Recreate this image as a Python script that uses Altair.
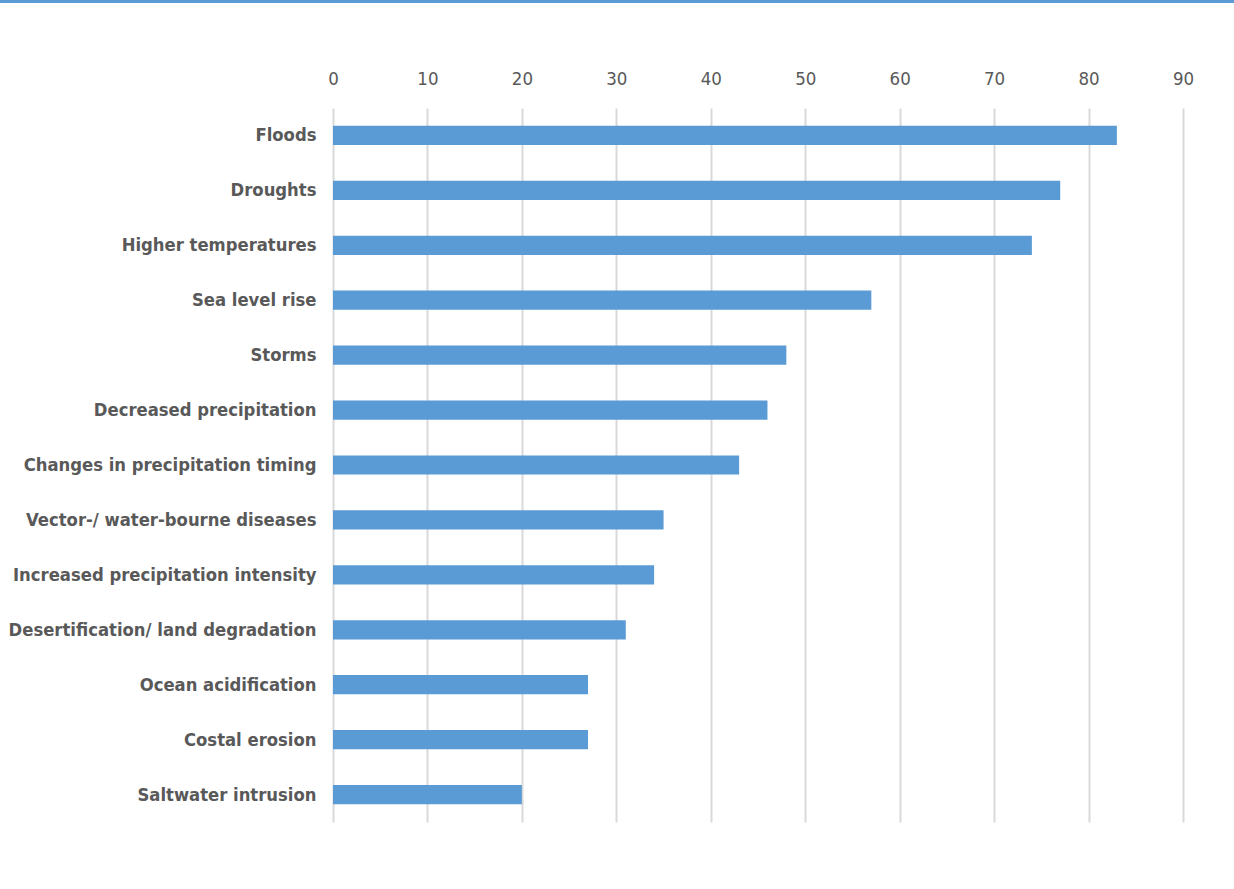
import altair as alt
import pandas as pd

categories = [
    "Floods", "Droughts", "Higher temperatures", "Sea level rise", "Storms",
    "Decreased precipitation\u2007", "Changes in precipitation timing",
    "Vector-/ water-bourne diseases", "Increased precipitation intensity",
    "Desertification/ land degradation", "Ocean acidification",
    "Costal erosion", "Saltwater intrusion",
]
values = [83, 77, 74, 57, 48, 46, 43, 35, 34, 31, 27, 27, 20]
ticks = [0, 10, 20, 30, 40, 50, 60, 70, 80, 90]

df = pd.DataFrame({"cat": categories, "val": values})

FONT = "DejaVu Sans Condensed, Roboto, sans-serif"
GRAY = "#595959"

bars = alt.Chart(df).mark_bar(color="#5B9BD5").encode(
    x=alt.X("val:Q",
            scale=alt.Scale(domain=[0, 90], nice=False),
            axis=alt.Axis(orient="top", values=ticks, title=None, domain=False,
                          ticks=False, grid=True, gridColor="#D9D9D9", gridWidth=2,
                          labelFont=FONT, labelFontSize=18.5, labelColor=GRAY,
                          labelPadding=20, labelFlush=False)),
    y=alt.Y("cat:N", sort=categories,
            scale=alt.Scale(paddingInner=0.65, paddingOuter=0.325),
            axis=alt.Axis(title=None, domain=False, ticks=False,
                          labelFont=FONT, labelFontSize=18.3, labelFontWeight="bold",
                          labelColor=GRAY, labelPadding=17, labelLimit=400,
                          labelOffset=1)),
)

topline = alt.Chart(df).mark_rule(color="#5B9BD5", strokeWidth=3).encode(
    x=alt.value(-333), x2=alt.value(901), y=alt.value(-107)
)

chart = alt.layer(bars, topline).properties(
    width=850, height=714,
    autosize=alt.AutoSizeParams(type="none"),
    padding={"left": 333, "top": 108, "right": 51, "bottom": 67},
).configure_view(stroke=None)

chart.save("out.html", embed_options={"renderer": "svg", "actions": False})
